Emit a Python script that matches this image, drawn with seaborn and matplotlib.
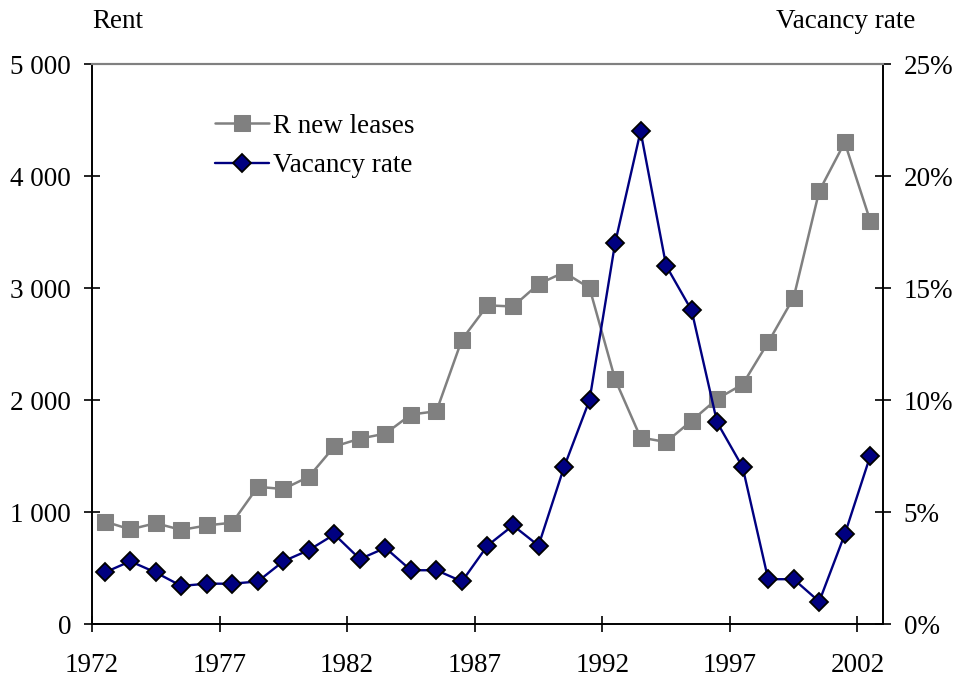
import numpy as np
import pandas as pd
import seaborn as sns
import matplotlib.pyplot as plt
from matplotlib.ticker import FuncFormatter

years = np.arange(1972, 2003)
rent = [915, 845, 900, 840, 880, 905, 1225, 1205, 1315, 1585, 1655, 1700, 1870, 1900,
        2540, 2845, 2835, 3035, 3140, 3000, 2185, 1665, 1625, 1815, 2010, 2140, 2515,
        2915, 3865, 4300, 3600]
vacancy = [2.3, 2.8, 2.3, 1.7, 1.8, 1.8, 1.9, 2.8, 3.3, 4.0, 2.9, 3.4, 2.4, 2.4, 1.9,
           3.5, 4.4, 3.5, 7.0, 10.0, 17.0, 22.0, 16.0, 14.0, 9.0, 7.0, 2.0, 2.0, 1.0,
           4.0, 7.5]
year_ticks = [1972, 1977, 1982, 1987, 1992, 1997, 2002]

# points sit in the middle of each year's slot
df = pd.DataFrame({'year': years + 0.5, 'rent': rent, 'vacancy': vacancy})

sns.set_style('white')
plt.rcParams['font.family'] = ['Liberation Serif', 'DejaVu Serif']
plt.rcParams['text.color'] = 'black'
plt.rcParams['xtick.color'] = 'black'
plt.rcParams['ytick.color'] = 'black'
fs = 19.5

fig = plt.figure(figsize=(9.55, 6.81), dpi=100)
ax = fig.add_axes([0.0963, 0.0837, 0.8283, 0.8223])
ax2 = ax.twinx()

sns.lineplot(data=df, x='year', y='rent', ax=ax, color='#808080', marker='s',
             markersize=11, markeredgecolor='#808080', linewidth=1.8,
             label='R new leases', legend=False)
sns.lineplot(data=df, x='year', y='vacancy', ax=ax2, color='#000080', marker='D',
             markersize=9, markeredgecolor='black', markeredgewidth=1.3,
             linewidth=1.7, label='Vacancy rate', legend=False)

ax.set_xlim(1972, 2003)
ax.set_ylim(0, 5000)
ax2.set_ylim(0, 25)
ax.set_xticks(year_ticks)
ax.set_xticklabels([str(y) for y in year_ticks])
ax.set_yticks(np.arange(0, 5001, 1000))
ax.yaxis.set_major_formatter(FuncFormatter(lambda v, p: f'{int(v):,}'.replace(',', ' ')))
ax2.set_yticks(np.arange(0, 26, 5))
ax2.yaxis.set_major_formatter(FuncFormatter(lambda v, p: f'{int(v)}%'))
ax.set_xlabel('')
ax.set_ylabel('')
ax2.set_ylabel('')

for a in (ax, ax2):
    a.grid(False)
    a.spines['top'].set_color('#808080')
    a.spines['top'].set_linewidth(1.5)
    for s in ('left', 'right', 'bottom'):
        a.spines[s].set_color('black')
        a.spines[s].set_linewidth(1.2)
ax.tick_params(axis='both', direction='inout', length=12, width=1.2, color='black',
               labelcolor='black', labelsize=fs, left=True, bottom=True)
ax.tick_params(axis='y', pad=9)
ax.tick_params(axis='x', pad=15)
ax2.tick_params(axis='y', direction='inout', length=12, width=1.2, color='black',
                labelcolor='black', labelsize=fs, right=True, pad=9)

fig.text(0.097, 0.968, 'Rent', fontsize=fs, ha='left', va='center')
fig.text(0.958, 0.968, 'Vacancy rate', fontsize=fs, ha='right', va='center')

h1, l1 = ax.get_legend_handles_labels()
h2, l2 = ax2.get_legend_handles_labels()
ax2.legend(h1 + h2, l1 + l2, loc='upper left', bbox_to_anchor=(0.125, 0.955),
           frameon=False, fontsize=fs, handlelength=2.0, handletextpad=0.15,
           labelspacing=0.55)

fig.savefig('out.png', dpi=100)
